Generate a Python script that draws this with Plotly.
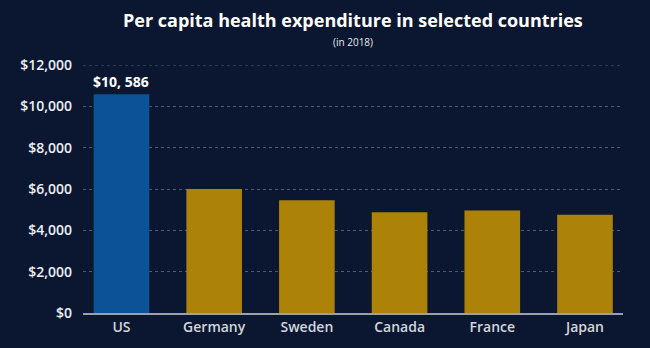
import plotly.graph_objects as go

# Per capita health expenditure, 2018 (USD)
countries = ["US", "Germany", "Sweden", "Canada", "France", "Japan"]
spending = [10586, 6000, 5450, 4880, 4960, 4750]
bar_colors = ["#0b5296", "#ad8208", "#ad8208", "#ad8208", "#ad8208", "#ad8208"]
tick_values = [0, 2000, 4000, 6000, 8000, 10000, 12000]
tick_labels = ["$0", "$2,000", "$4,000", "$6,000", "$8,000", "$10,000", "$12,000"]

BG = "#0b1731"
FONT = "Open Sans"
GRID = "#4b5a78"

fig = go.Figure()
fig.add_trace(go.Bar(
    x=list(range(len(countries))),
    y=spending,
    width=0.6,
    marker=dict(color=bar_colors, line=dict(width=0)),
    hoverinfo="skip",
))

# value label over the US bar
fig.add_annotation(
    x=0, y=spending[0],
    text="$10, 586",
    showarrow=False, yanchor="bottom", yshift=1,
    font=dict(family=FONT, size=14, color="#ffffff", weight=700),
)

fig.update_layout(
    width=650, height=348,
    margin=dict(l=83, r=27, t=65, b=32),
    paper_bgcolor=BG, plot_bgcolor=BG,
    showlegend=False,
    font=dict(family=FONT, color="#e6e8ec"),
    xaxis=dict(
        range=[-0.415, 5.41],
        tickvals=list(range(len(countries))),
        ticktext=countries,
        showgrid=False, zeroline=False,
        showline=True, linecolor="#9aa1ad", linewidth=2,
        ticks="", tickfont=dict(family=FONT, size=14, color="#d3d6dc", weight=600),
    ),
    yaxis=dict(
        range=[0, 12000],
        tickvals=tick_values, ticktext=tick_labels,
        showgrid=True, gridcolor=GRID, griddash="dot", gridwidth=1,
        zeroline=False, showline=False, ticks="",
        ticklabelstandoff=10,
        tickfont=dict(family=FONT, size=14, color="#eef0f3", weight=600),
    ),
)

# top gridline sits on the plot edge, so draw it explicitly
fig.add_shape(
    type="line", xref="paper", yref="y", x0=0, x1=1,
    y0=tick_values[-1], y1=tick_values[-1],
    line=dict(color=GRID, width=1, dash="dot"), layer="below",
)

fig.add_annotation(
    xref="paper", yref="paper", x=0.5, y=1, yshift=45,
    text="Per capita health expenditure in selected countries",
    showarrow=False, yanchor="middle",
    font=dict(family=FONT, size=18, color="#ffffff", weight=700),
)
fig.add_annotation(
    xref="paper", yref="paper", x=0.5, y=1, yshift=23,
    text="(in 2018)",
    showarrow=False, yanchor="middle",
    font=dict(family=FONT, size=10, color="#e6e8ec"),
)

fig.write_html("out.html")
